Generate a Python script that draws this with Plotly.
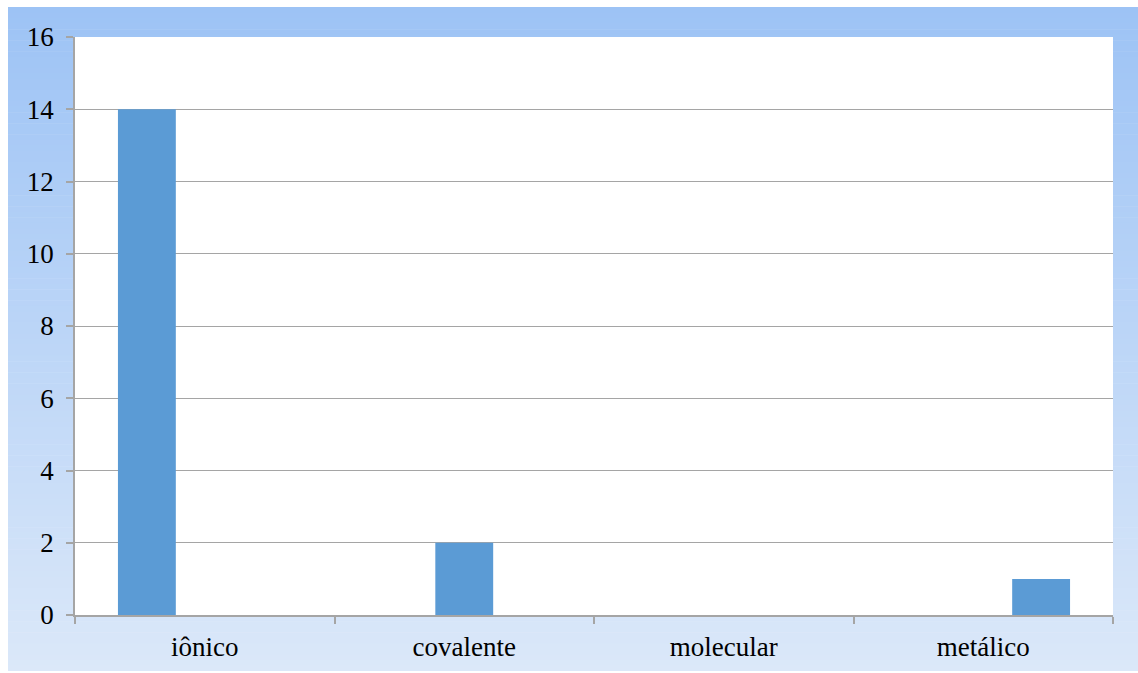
import plotly.graph_objects as go

# Category labels and counts per bonding type (one series per slot in the group)
categories = ["iônico", "covalente", "molecular", "metálico"]
serie_1 = [14, None, None, None]
serie_2 = [None, 2, None, None]
serie_3 = [None, None, None, 1]
y_ticks = [0, 2, 4, 6, 8, 10, 12, 14, 16]

BAR_COLOR = "#5B9BD5"
GRID = "#A5A5A5"
FONT = "Liberation Serif, Times New Roman, serif"

W, H = 1138, 673
ML, MR, MT, MB = 75, 25, 37, 58
PW, PH = W - ML - MR, H - MT - MB

fig = go.Figure()
for name, vals in [("Série 1", serie_1), ("Série 2", serie_2), ("Série 3", serie_3)]:
    fig.add_trace(go.Bar(x=categories, y=vals, name=name,
                         marker=dict(color=BAR_COLOR, line=dict(width=0))))


def px_to_paper_x(px):
    return (px - ML) / PW


def px_to_paper_y(py):
    return (H - MB - py) / PH


# vertical blue gradient behind the chart
shapes = []
top_c = (157, 195, 245)
bot_c = (219, 232, 249)
y_top, y_bot = 7, 671
n = 120
for i in range(n):
    t = i / (n - 1)
    c = tuple(round(top_c[k] + (bot_c[k] - top_c[k]) * t) for k in range(3))
    a = y_top + (y_bot - y_top) * i / n
    b = y_top + (y_bot - y_top) * (i + 1) / n + 0.6
    shapes.append(dict(type="rect", xref="paper", yref="paper", layer="below",
                       x0=px_to_paper_x(8), x1=px_to_paper_x(W),
                       y0=px_to_paper_y(min(b, y_bot)), y1=px_to_paper_y(a),
                       fillcolor="rgb(%d,%d,%d)" % c, line=dict(width=0)))
# white plot area
shapes.append(dict(type="rect", xref="paper", yref="paper", layer="below",
                   x0=0, x1=1, y0=0, y1=1, fillcolor="white", line=dict(width=0)))

fig.update_layout(
    width=W, height=H,
    margin=dict(l=ML, r=MR, t=MT, b=MB, pad=0),
    paper_bgcolor="white", plot_bgcolor="white",
    barmode="group", bargap=0.331, bargroupgap=0,
    showlegend=False,
    shapes=shapes,
    font=dict(family=FONT, size=27, color="black"),
    xaxis=dict(type="category", tickson="boundaries", ticks="outside", ticklen=7,
               tickwidth=2, tickcolor=GRID, showline=True, linecolor=GRID,
               linewidth=2, showgrid=False, ticklabelstandoff=7,
               tickfont=dict(family=FONT, size=27)),
    yaxis=dict(range=[0, 16], tickvals=y_ticks, ticks="outside", ticklen=7,
               tickwidth=1.5, tickcolor=GRID, showline=True, linecolor=GRID,
               linewidth=1.5, showgrid=True, gridcolor=GRID, gridwidth=1.2,
               zeroline=False, ticklabelstandoff=7,
               tickfont=dict(family=FONT, size=27)),
)

fig.write_html("out.html")
